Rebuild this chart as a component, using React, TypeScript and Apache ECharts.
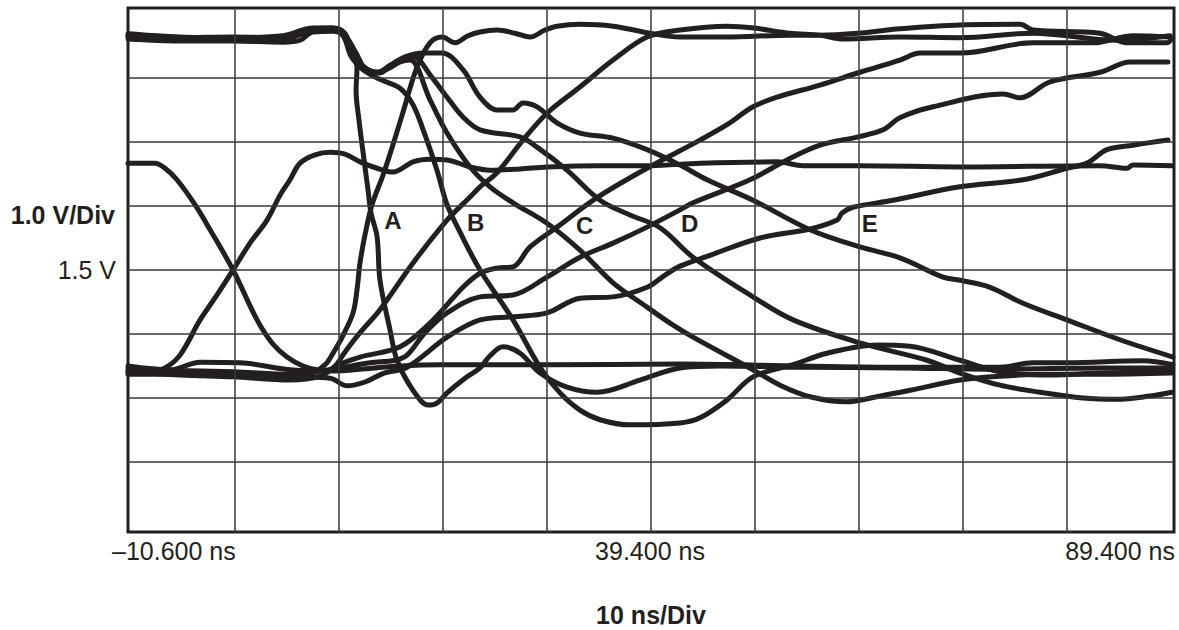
import { useEffect, useRef } from "react";
import * as echarts from "echarts";

// Axis extents (ns, V) — 10 ns/Div horizontally, 1.0 V/Div vertically
const X_MIN = -10.82;
const X_MAX = 89.76;
const Y_MIN = -2.594;
const Y_MAX = 5.594;
const xGridLines = [-0.6, 9.4, 19.4, 29.4, 39.4, 49.4, 59.4, 69.4, 79.4];
const yGridLines = [-1.5, -0.5, 0.5, 1.5, 2.5, 3.5, 4.5];
const xTickLabels = ["–10.600 ns", "39.400 ns", "89.400 ns"];
const yScaleLabel = "1.0 V/Div";
const yRefLabel = "1.5 V";
const xScaleLabel = "10 ns/Div";

// Reference (driver) pair
const refFall = [[-10.82,3.17],[-8.22,3.17],[-7.26,3.09],[-6.11,2.91],[-4.38,2.52],[-2.93,2.13],[-0.72,1.5],[1.59,0.72],[3.03,0.36],[4.47,0.14],[6.01,0],[7.36,-0.06],[9.09,-0.08],[11.49,-0.05],[15.34,0],[19.18,0.02],[29.47,0.02],[42.26,0.03],[53.8,0],[63.41,-0.02],[73.03,-0.02],[76.2,0.05],[79.47,0.05],[86.78,0.08],[89.66,0.02]];
const refRise = [[-10.82,-0.09],[-8.7,-0.09],[-7.26,-0.03],[-5.82,0.17],[-3.89,0.72],[-2.26,1.11],[-0.72,1.5],[0.91,1.92],[2.55,2.28],[3.8,2.67],[4.76,2.91],[5.72,3.17],[7.16,3.3],[8.61,3.34],[10.05,3.31],[11.49,3.19],[13.13,3.09],[14.66,3.03],[16.59,3.19],[18.22,3.23],[19.86,3.22],[22.07,3.11],[23.99,3.06],[26.88,3.08],[29.47,3.11],[34.57,3.13],[39.38,3.13],[44.18,3.17],[51.59,3.19],[54.09,3.13],[59.57,3.13],[69.18,3.11],[82.64,3.13],[85.24,3.09],[85.82,3.14],[89.57,3.13]];

// Falling waveforms A–E
const fallA = [[-10.82,5.17],[-5.82,5.13],[-0.72,5.11],[4.09,5.14],[6.97,5.27],[8.89,5.27],[10.05,5.16],[10.72,4.94],[11.2,4.66],[11.11,4.31],[11.39,3.84],[11.88,3.22],[12.26,2.75],[12.55,2.39],[13.13,2.02],[13.41,1.34],[14.38,0.56],[15.05,0.09],[16.59,-0.38],[18.03,-0.61],[18.89,-0.58],[19.86,-0.42],[21.59,-0.19],[23.03,-0.03],[23.99,0.16],[25.24,0.3],[26.88,0.2],[28.8,-0.11],[31.39,-0.33],[34.28,-0.41],[38.41,-0.22],[42.26,-0.03],[46.11,0],[53.8,-0.02],[63.41,-0.03],[73.03,-0.05],[82.64,-0.03],[89.57,-0.03]];
const fallB = [[-10.82,5.11],[-5.82,5.08],[-0.72,5.08],[4.09,5.06],[5.72,5.09],[6.97,5.22],[8.89,5.23],[9.86,5.16],[10.63,4.84],[11.78,4.63],[13.41,4.48],[15.34,4.34],[16.59,4.08],[17.74,3.61],[18.89,3.06],[19.86,2.52],[21.11,2.09],[23.03,1.5],[26.2,0.72],[28.8,-0.02],[30.72,-0.42],[32.64,-0.69],[34.57,-0.84],[37.45,-0.92],[42.26,-0.89],[44.18,-0.81],[46.78,-0.53],[49.28,-0.17],[53.13,0.02],[56.39,0.2],[61.2,0.33],[64.38,0.31],[69.18,0.09],[73.03,-0.09],[77.84,-0.14],[82.64,-0.11],[89.57,-0.09]];
const fallC = [[-10.82,5.19],[-5.82,5.14],[-0.72,5.13],[4.09,5.16],[6.97,5.28],[8.89,5.28],[10.05,5.19],[10.63,4.91],[11.97,4.66],[13.13,4.59],[14.38,4.66],[15.34,4.75],[16.3,4.78],[18.22,4.16],[19.86,3.64],[22.07,3.11],[23.99,2.8],[26.2,2.55],[29.47,2.23],[32.64,1.81],[35.82,1.3],[39.09,0.92],[41.3,0.67],[43.51,0.45],[49.28,-0.06],[51.88,-0.3],[54.76,-0.48],[58.32,-0.56],[61.2,-0.48],[64.38,-0.38],[69.18,-0.22],[73.03,-0.16],[77.84,-0.13],[82.64,-0.13],[89.57,-0.11]];
const fallD = [[-10.82,5.14],[-5.82,5.11],[-0.72,5.13],[4.09,5.11],[6.97,5.25],[8.89,5.27],[10.05,5.17],[11.11,4.89],[12.07,4.63],[13.41,4.58],[14.38,4.69],[15.34,4.78],[16.59,4.84],[18.22,4.55],[19.86,4.2],[21.39,3.89],[23.03,3.69],[26.88,3.58],[28.51,3.42],[31.39,3.06],[34.57,2.59],[37.45,2.36],[40.34,2.16],[43.51,1.7],[49.28,1.08],[53.13,0.72],[59.57,0.36],[66.01,0.09],[69.18,-0.11],[73.03,-0.3],[76.88,-0.41],[81.01,-0.5],[84.28,-0.52],[87.45,-0.47],[89.57,-0.41]];
const fallE = [[-10.82,5.16],[-5.82,5.13],[-0.72,5.14],[4.09,5.13],[6.97,5.27],[8.89,5.28],[10.05,5.19],[10.63,4.91],[11.88,4.67],[13.22,4.59],[14.38,4.7],[15.82,4.83],[17.55,4.89],[19.38,4.89],[21.39,4.63],[23.03,4.2],[24.66,4.0],[26.2,4.0],[27.16,4.11],[28.51,4.05],[30.43,3.8],[32.64,3.64],[35.82,3.56],[39.09,3.38],[42.26,3.14],[44.86,2.91],[49.28,2.59],[54.76,2.13],[59.57,1.86],[63.41,1.69],[67.55,1.39],[69.18,1.34],[72.07,1.23],[75.24,0.98],[79.47,0.72],[84.57,0.41],[89.66,0.14]];

// Rising waveforms A–E
const riseA = [[-10.82,-0.03],[-5.82,-0.09],[-0.72,-0.14],[3.8,-0.17],[6.68,-0.13],[8.13,0.02],[8.89,0.2],[9.86,0.48],[10.82,0.83],[11.2,1.19],[11.49,1.61],[11.97,2.05],[12.64,2.52],[13.7,2.98],[14.57,3.41],[15.63,3.97],[16.97,4.67],[18.22,5.05],[19.38,5.14],[20.63,5.05],[21.88,5.16],[23.03,5.22],[24.66,5.25],[26.39,5.2],[27.84,5.14],[29.28,5.25],[30.43,5.31],[32.64,5.34],[35.82,5.31],[39.38,5.2],[42.26,5.14],[46.78,5.14],[52.84,5.17],[55.72,5.17],[59.38,5.2],[63.41,5.27],[69.18,5.33],[74.95,5.34],[76.2,5.25],[82.64,5.2],[85.24,5.05],[89.09,5.05],[89.57,5.13]];
const riseB = [[-10.82,-0.09],[-5.82,-0.14],[-0.72,-0.17],[4.76,-0.22],[7.64,-0.16],[9.09,0],[10.05,0.22],[11.49,0.52],[13.41,0.88],[16.59,1.61],[19.86,2.28],[22.07,2.64],[23.03,2.8],[24.66,3.02],[27.16,3.53],[29.47,3.95],[32.64,4.36],[35.82,4.78],[39.09,5.14],[42.26,5.25],[46.78,5.31],[49.38,5.28],[52.84,5.2],[55.72,5.17],[57.93,5.11],[63.41,5.14],[69.18,5.13],[76.2,5.2],[84.28,5.09],[89.37,5.16]];
const riseC = [[-10.82,0],[-6.78,-0.06],[-3.89,0.06],[-0.05,0.05],[4.76,-0.06],[8.13,-0.08],[9.57,0.03],[11.49,0.14],[15.34,0.3],[18.22,0.67],[21.39,1.23],[23.03,1.45],[24.66,1.53],[26.2,1.55],[27.84,1.86],[30.43,2.17],[34.28,2.63],[39.09,3.09],[44.18,3.53],[46.78,3.77],[49.28,4.05],[51.59,4.2],[55.72,4.39],[59.57,4.59],[63.41,4.78],[65.34,4.89],[69.18,4.89],[76.2,5.05],[81.97,5.05],[85.82,5.16],[89.37,5.14]];
const riseD = [[-10.82,-0.06],[-0.72,-0.09],[4.76,-0.13],[7.64,-0.08],[9.57,-0.03],[12.45,0.05],[14.86,0.09],[16.01,0.17],[17.74,0.52],[19.86,0.83],[23.03,1.08],[26.2,1.11],[29.47,1.39],[32.64,1.7],[35.82,1.92],[39.09,2.17],[42.26,2.44],[43.51,2.55],[48.99,2.91],[52.55,3.22],[55.72,3.45],[59.38,3.58],[61.78,3.69],[63.41,3.88],[66.59,4.05],[73.32,4.25],[74.95,4.19],[77.84,4.44],[82.64,4.59],[85.53,4.75],[89.18,4.75]];
const riseE = [[-10.82,-0.13],[-0.72,-0.13],[5.72,-0.17],[8.61,-0.19],[10.24,-0.31],[11.97,-0.25],[13.8,-0.11],[16.01,-0.02],[19.86,0.45],[23.03,0.72],[26.2,0.77],[29.47,0.83],[32.64,1.06],[35.82,1.08],[39.09,1.23],[40.82,1.42],[42.26,1.56],[45.14,1.73],[49.95,2.0],[54.76,2.14],[57.36,2.28],[57.84,2.39],[58.89,2.48],[62.74,2.59],[69.18,2.8],[75.24,2.91],[79.47,3.09],[81.39,3.17],[83.32,3.38],[85.82,3.45],[89.18,3.53]];

// Crossing labels
const markerNames = ["A", "B", "C", "D", "E"];
const markerTimes = [14.66, 22.6, 33.1, 43.2, 60.5];
const markerVolts = [2.28, 2.25, 2.19, 2.22, 2.22];

const traces = [refFall, refRise, fallA, fallB, fallC, fallD, fallE, riseA, riseB, riseC, riseD, riseE];
const traceNames = ["refFall", "refRise", "fallA", "fallB", "fallC", "fallD", "fallE", "riseA", "riseB", "riseC", "riseD", "riseE"];

export default function App() {
  const ref = useRef<HTMLDivElement>(null);
  useEffect(() => {
    if (!ref.current) return;
    const chart = echarts.init(ref.current, null, { renderer: "svg" });
    const ink = "#231f20";
    const font = '"Liberation Sans", Arial, Helvetica, sans-serif';
    const traceSeries = traces.map((d, i) => ({
      type: "line",
      name: traceNames[i],
      data: d,
      smooth: 0.35,
      symbol: "none",
      showSymbol: false,
      silent: true,
      z: 3,
      lineStyle: { color: ink, width: 5, cap: "round", join: "round" },
    }));
    chart.setOption({
      animation: false,
      grid: {
        left: 128, top: 8, right: 5, bottom: 98,
        show: true, borderColor: ink, borderWidth: 3, backgroundColor: "transparent",
      },
      xAxis: {
        type: "value", min: X_MIN, max: X_MAX,
        axisLine: { show: false }, axisTick: { show: false }, axisLabel: { show: false }, splitLine: { show: false },
      },
      yAxis: {
        type: "value", min: Y_MIN, max: Y_MAX,
        axisLine: { show: false }, axisTick: { show: false }, axisLabel: { show: false }, splitLine: { show: false },
      },
      series: [
        {
          type: "line",
          data: [[X_MIN, Y_MIN]],
          symbol: "none",
          silent: true,
          z: 1,
          lineStyle: { opacity: 0 },
          markLine: {
            silent: true,
            symbol: ["none", "none"],
            label: { show: false },
            lineStyle: { color: "#3a3a3a", width: 1.5, type: "solid" },
            emphasis: { disabled: true },
            data: [
              ...xGridLines.map((x) => ({ xAxis: x })),
              ...yGridLines.map((y) => ({ yAxis: y })),
            ],
          },
        },
        ...traceSeries,
        {
          type: "scatter",
          silent: true,
          z: 5,
          symbol: "circle",
          symbolSize: 0.1,
          itemStyle: { color: ink, opacity: 1 },
          data: markerNames.map((n, i) => ({ name: n, value: [markerTimes[i], markerVolts[i]] })),
          label: {
            show: true, position: "inside", formatter: "{b}", opacity: 1,
            color: ink, textBorderWidth: 0, fontFamily: font, fontWeight: "bold", fontSize: 24,
          },
        },
      ],
      graphic: [
        { type: "text", x: 115, y: 215, style: { text: yScaleLabel, fill: ink, fontFamily: font, fontWeight: "bold", fontSize: 25, align: "right", verticalAlign: "middle" } },
        { type: "text", x: 116, y: 270, style: { text: yRefLabel, fill: ink, fontFamily: font, fontSize: 25, align: "right", verticalAlign: "middle" } },
        { type: "text", x: 112, y: 551, style: { text: xTickLabels[0], fill: ink, fontFamily: font, fontSize: 25, align: "left", verticalAlign: "middle" } },
        { type: "text", x: 650, y: 551, style: { text: xTickLabels[1], fill: ink, fontFamily: font, fontSize: 25, align: "center", verticalAlign: "middle" } },
        { type: "text", x: 1175, y: 551, style: { text: xTickLabels[2], fill: ink, fontFamily: font, fontSize: 25, align: "right", verticalAlign: "middle" } },
        { type: "text", x: 651, y: 615, style: { text: xScaleLabel, fill: ink, fontFamily: font, fontWeight: "bold", fontSize: 25, align: "center", verticalAlign: "middle" } },
      ],
    });
    return () => chart.dispose();
  }, []);
  return (
    <div
      ref={ref}
      style={{ position: "fixed", left: 0, top: 0, width: 1179, height: 630, background: "#fff" }}
    />
  );
}
